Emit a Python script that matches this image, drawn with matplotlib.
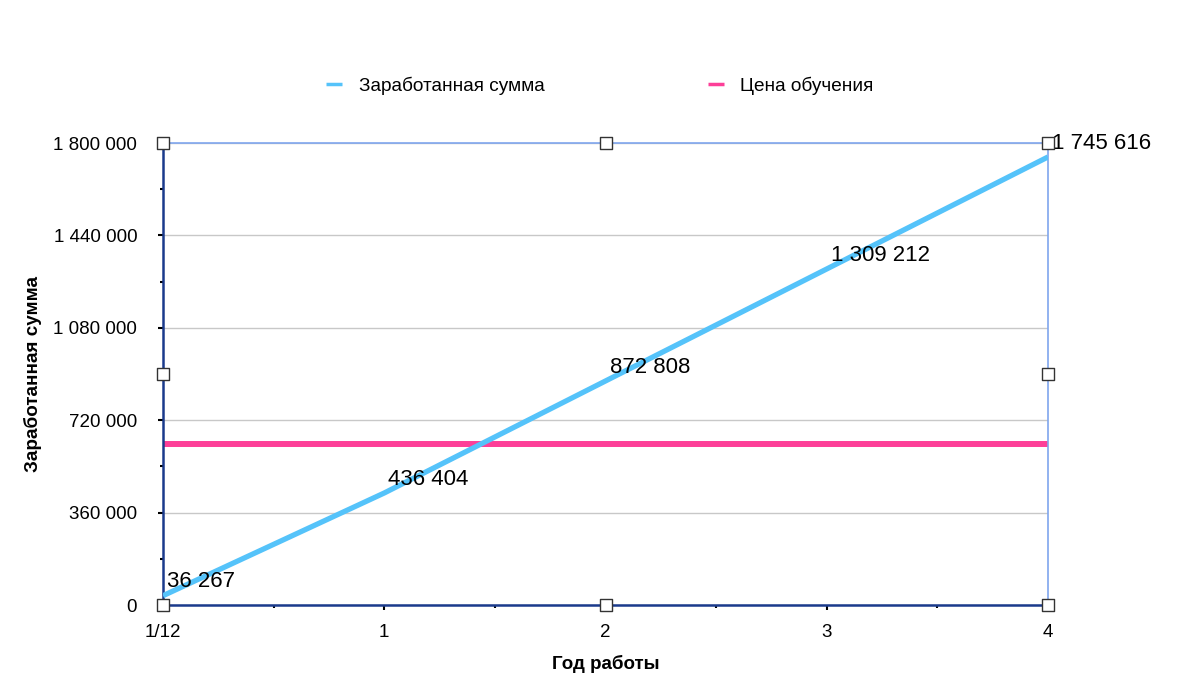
import matplotlib
matplotlib.use("Agg")
import matplotlib.pyplot as plt
from matplotlib.ticker import FixedLocator, FuncFormatter
from matplotlib.lines import Line2D

plt.rcParams['font.family'] = ['Liberation Sans', 'DejaVu Sans']

categories = ["1/12", "1", "2", "3", "4"]
earned = [36267, 436404, 872808, 1309212, 1745616]
tuition = [627000, 627000, 627000, 627000, 627000]
yticks = [0, 360000, 720000, 1080000, 1440000, 1800000]

blue = "#55c3fa"
pink = "#fd3f98"
navy = "#1a3a8c"
lightblue = "#7fa6ee"

fig = plt.figure(figsize=(12, 6.93), dpi=100)
ax = fig.add_axes([163/1200, 1-605/693, (1048-163)/1200, (605-143)/693])

x = list(range(len(categories)))
ax.plot(x, earned, color=blue, lw=3.8, solid_capstyle='butt', zorder=3, label="Заработанная сумма")
ax.plot(x, tuition, color=pink, lw=4.3, solid_capstyle='butt', zorder=2, label="Цена обучения")

def fmt(v):
    return f"{int(v):,}".replace(",", " ")

for xi, v in zip(x, earned):
    ax.annotate(fmt(v), (xi, v), xytext=(3, 10), textcoords='offset points',
                ha='left', va='center', fontsize=16, color='black', zorder=5,
                annotation_clip=False)

ax.set_xlim(0, 4)
ax.set_ylim(0, 1800000)
ax.set_xticks(x)
ax.set_xticklabels(categories)
ax.xaxis.set_minor_locator(FixedLocator([0.5, 1.5, 2.5, 3.5]))
ax.set_yticks(yticks)
ax.yaxis.set_major_formatter(FuncFormatter(lambda v, p: fmt(v)))
ax.yaxis.set_minor_locator(FixedLocator([180000, 540000, 900000, 1260000, 1620000]))
ax.tick_params(axis='both', which='major', length=3.6, width=1.5, color='black', labelsize=13.5)
ax.tick_params(axis='both', which='minor', length=2.5, width=1.5, color='black')
ax.tick_params(axis='x', pad=10)
ax.tick_params(axis='y', pad=15)

ax.grid(axis='y', color='#c8c8c8', lw=1)
ax.set_axisbelow(True)

for s in ['left', 'bottom']:
    ax.spines[s].set_color(navy)
    ax.spines[s].set_linewidth(1.8)
for s in ['top', 'right']:
    ax.spines[s].set_color(lightblue)
    ax.spines[s].set_linewidth(1.2)

ax.set_xlabel("Год работы", fontsize=13.5, fontweight='bold', labelpad=10)
ax.set_ylabel("Заработанная сумма", fontsize=13.6, fontweight='bold', labelpad=8)

# selection handles
hx = [0, 0.5, 1, 0, 1, 0, 0.5, 1]
hy = [1, 1, 1, 0.5, 0.5, 0, 0, 0]
ax.scatter(hx, hy, transform=ax.transAxes, marker='s', s=70, facecolor='white',
           edgecolor='#333333', linewidths=1, zorder=10, clip_on=False)

handles = [Line2D([], [], color=blue, lw=2.5, solid_capstyle='butt'),
           Line2D([], [], color=pink, lw=2.5, solid_capstyle='butt')]
fig.legend(handles, ["Заработанная сумма", "Цена обучения"], loc='center',
           bbox_to_anchor=(0.5, 1-86/693), ncol=2, frameon=False, fontsize=13.7,
           handlelength=0.84, handletextpad=0.86, columnspacing=8.6)

fig.savefig("out.png", dpi=100)
